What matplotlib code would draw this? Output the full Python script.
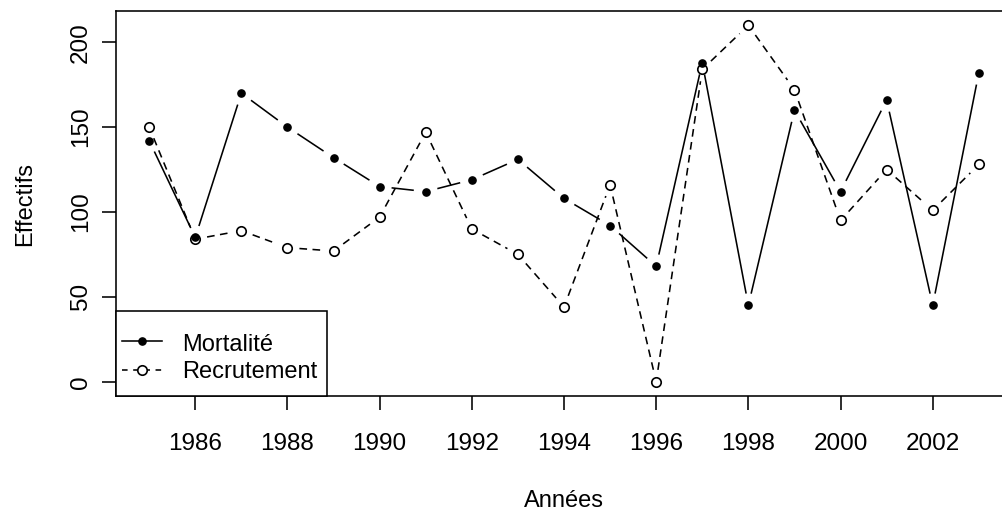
import numpy as np
import matplotlib
matplotlib.use("Agg")
import matplotlib.pyplot as plt
from matplotlib.lines import Line2D
from matplotlib.patches import Rectangle
from matplotlib.transforms import Affine2D

plt.rcParams['font.family'] = ['Liberation Sans', 'DejaVu Sans']

annees = list(range(1985, 2004))
mortalite = [142, 85, 170, 150, 132, 115, 112, 119, 131, 108, 92, 68,
             188, 45, 160, 112, 166, 45, 182]
recrutement = [150, 84, 89, 79, 77, 97, 147, 90, 75, 44, 116, 0,
               184, 210, 172, 95, 125, 101, 128]
xticks = list(range(1986, 2003, 2))
yticks = [0, 50, 100, 150, 200]
noms = ['Mortalité', 'Recrutement']

fs = 17
lw = 1.15
dash = (4.8, 3.4)

W, H = 1002, 511
fig = plt.figure(figsize=(W / 100, H / 100), dpi=100)
# pixel coords (origin top left) -> figure
pix = Affine2D().scale(1 / W, -1 / H).translate(0, 1) + fig.transFigure

# axes: left 116, right ~1012 (cut off by the image), top 11, bottom 396
ax = fig.add_axes([116 / W, 1 - 396 / H, (1012 - 116) / W, (396 - 11) / H])

xr = annees[-1] - annees[0]
ax.set_xlim(annees[0] - 0.04 * xr, annees[-1] + 0.04 * xr)
ymax = max(max(mortalite), max(recrutement))
ax.set_ylim(-0.04 * ymax, ymax * 1.04)


def type_b(x, y, gap, **kw):
    # lines with gaps around the points, like R type="b"
    tr = ax.transData
    inv = tr.inverted()
    pts = tr.transform(np.column_stack([x, y]))
    for i in range(len(pts) - 1):
        p0, p1 = pts[i], pts[i + 1]
        d = p1 - p0
        L = np.hypot(*d)
        if L <= 2 * gap:
            continue
        u = d / L
        q = inv.transform(np.array([p0 + u * gap, p1 - u * gap]))
        ax.plot(q[:, 0], q[:, 1], **kw)


type_b(annees, mortalite, 12, color='black', lw=lw, solid_capstyle='butt')
type_b(annees, recrutement, 12, color='black', lw=lw, dashes=dash,
       dash_capstyle='butt')
ax.plot(annees, mortalite, 'o', color='black', ms=5.2, ls='none')
ax.plot(annees, recrutement, 'o', mfc='none', mec='black', mew=1.2,
        ms=6.8, ls='none')

ax.set_xticks(xticks)
ax.set_yticks(yticks)
ax.tick_params(axis='both', length=10, width=lw, labelsize=17.5, color='black')
ax.tick_params(axis='x', pad=16.5)
ax.tick_params(axis='y', pad=7.5)
for lab in ax.get_yticklabels():
    lab.set_rotation(90)
    lab.set_va('center')
for s in ax.spines.values():
    s.set_linewidth(lw)

fig.text(25.5 / W, 1 - 203.5 / H, 'Effectifs', rotation=90, fontsize=fs,
         ha='center', va='center')
fig.text(564 / W, 1 - 507 / H, 'Années', fontsize=fs, ha='center',
         va='baseline')

# legend box, R style (bottomleft)
fig.add_artist(Rectangle((116, 310.7), 211, 85.3, transform=pix,
                         facecolor='white', edgecolor='black', lw=lw,
                         zorder=5))
fig.add_artist(Line2D([121.7, 161.7], [340.7, 340.7], transform=pix,
                      color='black', lw=lw, zorder=6))
fig.add_artist(Line2D([141.7], [340.7], transform=pix, marker='o',
                      color='black', ms=5.2, zorder=7))
fig.add_artist(Line2D([121.7, 161.7], [370, 370], transform=pix,
                      color='black', lw=lw, dashes=(3.5, 3.5), zorder=6))
fig.add_artist(Line2D([141.7], [370], transform=pix, marker='o',
                      mfc='white', mec='black', mew=1.2, ms=6.8, zorder=7))
for nom, yb in zip(noms, [350.7, 378]):
    fig.text(181.7 / W, 1 - yb / H, nom, fontsize=fs, ha='left',
             va='baseline', zorder=8)

fig.savefig('out.png', dpi=100)
